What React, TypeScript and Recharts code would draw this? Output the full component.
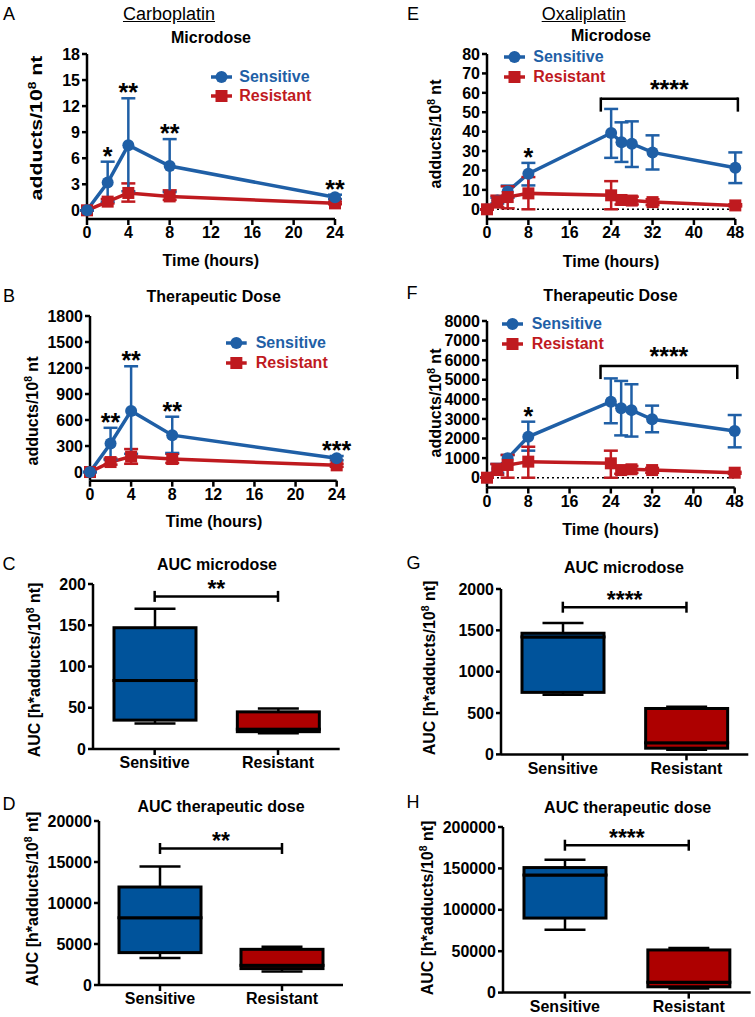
import React from 'react'
import { ComposedChart, Line, XAxis, YAxis, ErrorBar, ReferenceLine, ReferenceDot, BarChart, Bar } from 'recharts'

const FONT = '"Liberation Sans", Arial, Helvetica, sans-serif'
const BLUE = '#1f5fa6'
const RED = '#bf1a1f'
const BOX_BLUE = '#00539b'
const BOX_RED = '#ad0000'

// A - carboplatin microdose
const carboTimes = [0, 2, 4, 8, 24]
const aSensMean = [0, 3.2, 7.5, 5.1, 1.5]
const aSensLow = [0, 1.0, 2.2, 2.1, 1.3]
const aSensHigh = [0, 5.6, 12.9, 8.2, 1.8]
const aResMean = [0, 1.0, 2.0, 1.6, 0.8]
const aResLow = [0, 0.8, 1.0, 1.2, 0.7]
const aResHigh = [0, 1.3, 3.1, 2.3, 1.0]
const aStars = ['', '*', '**', '**', '**']

// B - carboplatin therapeutic dose
const bSensMean = [0, 330, 705, 425, 158]
const bSensLow = [0, 140, 210, 220, 135]
const bSensHigh = [0, 510, 1220, 638, 185]
const bResMean = [0, 115, 178, 150, 77]
const bResLow = [0, 85, 95, 105, 60]
const bResHigh = [0, 155, 265, 210, 95]
const bStars = ['', '**', '**', '**', '***']

// E - oxaliplatin microdose
const oxaliTimes = [0, 2, 4, 8, 24, 26, 28, 32, 48]
const eSensMean = [0, 4.5, 9.2, 18.3, 39.3, 34.5, 33.8, 29.3, 21.4]
const eSensLow = [0, 3, 6, 12.3, 26.5, 24.4, 21.8, 20.5, 13.5]
const eSensHigh = [0, 6, 12.2, 23.9, 51.7, 44.8, 45.3, 38.1, 29.3]
const eResMean = [0, 4.1, 6.3, 8.2, 7.2, 4.8, 4.5, 3.7, 2.0]
const eResLow = [0, 1, 0.5, 0, 0, 2.5, 2.5, 2.2, 1.5]
const eResHigh = [0, 7, 11.8, 16.6, 14.5, 6.5, 6.5, 5.2, 2.6]
const eStars = ['', '', '', '*', '', '', '', '', '']

// F - oxaliplatin therapeutic dose
const fSensMean = [0, 450, 990, 2090, 3880, 3540, 3450, 2980, 2380]
const fSensLow = [0, 250, 700, 1380, 2780, 2160, 2100, 2320, 1550]
const fSensHigh = [0, 700, 1160, 2860, 5070, 4940, 4770, 3680, 3200]
const fResMean = [0, 430, 650, 820, 735, 390, 430, 390, 255]
const fResLow = [0, 150, 0, 0, 0, 200, 250, 250, 200]
const fResHigh = [0, 700, 1160, 1580, 1380, 550, 600, 500, 300]
const fStars = ['', '', '', '*', '', '', '', '', '']

// box plots: [min, q1, median, q3, max]
const groups = ['Sensitive', 'Resistant']
const cSens = [31, 35, 83, 147, 170]
const cRes = [19, 21, 24, 45, 49]
const dSens = [3300, 3950, 8200, 11950, 14450]
const dRes = [1650, 2000, 2400, 4350, 4650]
const gSens = [720, 750, 1420, 1465, 1590]
const gRes = [55, 75, 140, 555, 575]
const hSens = [76000, 90000, 142000, 151000, 160500]
const hRes = [5000, 7000, 12500, 51500, 54000]

const YW = 70
const MT = 20
const MR = 20
const XH = 30
const STAR = 25

type Plot = { L: number; T: number; R: number; B: number }
type Series = { mean: number[]; low: number[]; high: number[] }

const tickStyle = { fill: '#000', fontSize: 16, fontWeight: 700, fontFamily: FONT }
const axisLine = { stroke: '#000', strokeWidth: 2.5 }

function circleDot(p: any) {
  if (p.cx == null) return <g key={p.index} />
  return <circle key={p.index} cx={p.cx} cy={p.cy} r={6} fill={BLUE} />
}
function squareDot(p: any) {
  if (p.cx == null) return <g key={p.index} />
  return <rect key={p.index} x={p.cx - 6} y={p.cy - 6} width={12} height={12} fill={RED} />
}

function TimeCourse({ plot, times, sens, res, yDomain, yTicks, xTicks, stars, bracket, zeroLine, redOnTop }: {
  plot: Plot; times: number[]; sens: Series; res: Series; yDomain: number[]; yTicks: number[]; xTicks: number[]
  stars: string[]; bracket?: { from: number; to: number; y: number; text: string }; zeroLine?: boolean; redOnTop?: boolean
}) {
  const { L, T, R, B } = plot
  const rows = times.map((t, i) => ({
    t,
    s: sens.mean[i],
    sErr: [sens.mean[i] - sens.low[i], sens.high[i] - sens.mean[i]],
    r: res.mean[i],
    rErr: [res.mean[i] - res.low[i], res.high[i] - res.mean[i]],
  }))
  const sensLine = (
    <Line key="s" dataKey="s" stroke={BLUE} strokeWidth={3.5} dot={circleDot} activeDot={false} isAnimationActive={false}>
      <ErrorBar dataKey="sErr" width={7} strokeWidth={2.5} stroke={BLUE} direction="y" />
    </Line>
  )
  const resLine = (
    <Line key="r" dataKey="r" stroke={RED} strokeWidth={3.5} dot={squareDot} activeDot={false} isAnimationActive={false}>
      <ErrorBar dataKey="rErr" width={7} strokeWidth={2.5} stroke={RED} direction="y" />
    </Line>
  )
  return (
    <div style={{ position: 'absolute', left: L - YW, top: T - MT }}>
      <ComposedChart width={R - L + YW + MR} height={B - T + MT + XH} data={rows} margin={{ top: MT, right: MR, bottom: 0, left: 0 }}>
        <XAxis type="number" dataKey="t" domain={[xTicks[0], xTicks[xTicks.length - 1]]} ticks={xTicks} interval={0}
          height={XH} axisLine={axisLine} tickLine={axisLine} tickSize={6} tickMargin={2} tick={tickStyle} />
        <YAxis type="number" domain={yDomain} ticks={yTicks} interval={0} width={YW}
          axisLine={axisLine} tickLine={axisLine} tickSize={5} tickMargin={2} tick={tickStyle} />
        {zeroLine && <ReferenceLine y={0} stroke="#000" strokeWidth={1.5} strokeDasharray="2 3" />}
        {redOnTop ? [sensLine, resLine] : [resLine, sensLine]}
        {stars.map((s, i) =>
          s ? (
            <ReferenceDot key={'st' + i} x={times[i]} y={sens.high[i]} r={0}
              shape={(p: any) => (
                <text x={p.cx} y={p.cy + 3} textAnchor="middle" fontSize={STAR} fontWeight={700} fontFamily={FONT} fill="#000">{s}</text>
              )} />
          ) : null
        )}
        {bracket && (
          <ReferenceLine ifOverflow="visible"
            segment={[{ x: bracket.from, y: bracket.y }, { x: bracket.to, y: bracket.y }]}
            shape={(p: any) => (
              <g>
                <line x1={p.x1} y1={p.y1} x2={p.x2} y2={p.y2} stroke="#000" strokeWidth={2.5} />
                <line x1={p.x1} y1={p.y1 - 1.2} x2={p.x1} y2={p.y1 + 13} stroke="#000" strokeWidth={2.5} />
                <line x1={p.x2} y1={p.y2 - 1.2} x2={p.x2} y2={p.y2 + 13} stroke="#000" strokeWidth={2.5} />
                <text x={(p.x1 + p.x2) / 2} y={p.y1 - 1} textAnchor="middle" fontSize={STAR} fontWeight={700} fontFamily={FONT} fill="#000">{bracket.text}</text>
              </g>
            )} />
        )}
      </ComposedChart>
    </div>
  )
}

const boxFill = (p: any) => (p.payload && p.payload.name === 'Sensitive' ? BOX_BLUE : BOX_RED)

function boxPart(p: any) {
  return <rect x={p.x} y={p.y} width={p.width} height={p.height} fill={boxFill(p)} stroke="#000" strokeWidth={3} />
}
function lowWhisker(p: any) {
  const cx = p.x + p.width / 2
  const yb = p.y + p.height
  return (
    <g>
      <line x1={cx} y1={p.y} x2={cx} y2={yb} stroke="#000" strokeWidth={2.5} />
      <line x1={cx - p.width / 4} y1={yb} x2={cx + p.width / 4} y2={yb} stroke="#000" strokeWidth={2.5} />
    </g>
  )
}
function highWhisker(p: any) {
  const cx = p.x + p.width / 2
  return (
    <g>
      <line x1={cx} y1={p.y} x2={cx} y2={p.y + p.height} stroke="#000" strokeWidth={2.5} />
      <line x1={cx - p.width / 4} y1={p.y} x2={cx + p.width / 4} y2={p.y} stroke="#000" strokeWidth={2.5} />
    </g>
  )
}

function BoxPanel({ plot, sens, res, yTicks, bracketY, text }: {
  plot: Plot; sens: number[]; res: number[]; yTicks: number[]; bracketY: number; text: string
}) {
  const { L, T, R, B } = plot
  const rows = [sens, res].map((v, i) => ({
    name: groups[i],
    base: v[0],
    lowW: v[1] - v[0],
    lowBox: v[2] - v[1],
    highBox: v[3] - v[2],
    highW: v[4] - v[3],
  }))
  return (
    <div style={{ position: 'absolute', left: L - YW, top: T - MT }}>
      <BarChart width={R - L + YW + MR} height={B - T + MT + XH} data={rows} barSize={82}
        margin={{ top: MT, right: MR, bottom: 0, left: 0 }}>
        <XAxis dataKey="name" type="category" height={XH} axisLine={axisLine} tickLine={axisLine}
          tickSize={6} tickMargin={2} tick={tickStyle} interval={0} />
        <YAxis type="number" domain={[yTicks[0], yTicks[yTicks.length - 1]]} ticks={yTicks} interval={0} width={YW}
          axisLine={axisLine} tickLine={axisLine} tickSize={5} tickMargin={2} tick={tickStyle} />
        <Bar dataKey="base" stackId="b" fill="transparent" isAnimationActive={false} />
        <Bar dataKey="lowW" stackId="b" shape={lowWhisker} isAnimationActive={false} />
        <Bar dataKey="lowBox" stackId="b" shape={boxPart} isAnimationActive={false} />
        <Bar dataKey="highBox" stackId="b" shape={boxPart} isAnimationActive={false} />
        <Bar dataKey="highW" stackId="b" shape={highWhisker} isAnimationActive={false} />
        <ReferenceLine ifOverflow="visible"
          segment={[{ x: groups[0], y: bracketY }, { x: groups[1], y: bracketY }]}
          shape={(p: any) => (
            <g>
              <line x1={p.x1} y1={p.y1} x2={p.x2} y2={p.y2} stroke="#000" strokeWidth={2.5} />
              <line x1={p.x1} y1={p.y1 - 5.5} x2={p.x1} y2={p.y1 + 5.5} stroke="#000" strokeWidth={2.5} />
              <line x1={p.x2} y1={p.y2 - 5.5} x2={p.x2} y2={p.y2 + 5.5} stroke="#000" strokeWidth={2.5} />
              <text x={(p.x1 + p.x2) / 2} y={p.y1 + 1} textAnchor="middle" fontSize={STAR - 2} fontWeight={700} fontFamily={FONT} fill="#000">{text}</text>
            </g>
          )} />
      </BarChart>
    </div>
  )
}

function Txt({ x, y, children, size = 16, bold = true, rotate = false, stretch = 1, underline = false }: any) {
  return (
    <div style={{
      position: 'absolute', left: x, top: y, whiteSpace: 'nowrap', lineHeight: 1, fontSize: size,
      fontWeight: bold ? 700 : 400, color: '#000', textDecoration: underline ? 'underline' : 'none',
      transform: `translate(-50%, -50%)${rotate ? ' rotate(-90deg)' : ''}${stretch !== 1 ? ` scaleX(${stretch})` : ''}`,
    }}>{children}</div>
  )
}

const Sup8 = () => <span style={{ fontSize: '0.65em', verticalAlign: 'super', lineHeight: 0 }}>8</span>

function LegendBlock({ x0, x1, tx, y1, y2 }: { x0: number; x1: number; tx: number; y1: number; y2: number }) {
  const w = x1 - x0
  const row = (y: number, color: string, label: string, square: boolean) => (
    <div style={{ position: 'absolute', left: x0, top: y, transform: 'translateY(-50%)', display: 'flex', alignItems: 'center' }}>
      <svg width={w} height={14} style={{ display: 'block' }}>
        <line x1={0} y1={7} x2={w} y2={7} stroke={color} strokeWidth={3.5} />
        {square ? <rect x={w / 2 - 6} y={1} width={12} height={12} fill={color} /> : <circle cx={w / 2} cy={7} r={6} fill={color} />}
      </svg>
      <span style={{ marginLeft: tx - x1, fontSize: 16, fontWeight: 700, color, lineHeight: 1 }}>{label}</span>
    </div>
  )
  return (
    <>
      {row(y1, BLUE, 'Sensitive', false)}
      {row(y2, RED, 'Resistant', true)}
    </>
  )
}

export default function App() {
  const yLabel = <>adducts/10<Sup8 /> nt</>
  const aucLabel = <>AUC [h*adducts/10<Sup8 /> nt]</>
  return (
    <div style={{ position: 'absolute', left: 0, top: 0, width: 755, height: 1017, overflow: 'hidden', background: '#fff', fontFamily: FONT }}>
      <TimeCourse plot={{ L: 87, T: 54.3, R: 335, B: 219.3 }} times={carboTimes}
        sens={{ mean: aSensMean, low: aSensLow, high: aSensHigh }} res={{ mean: aResMean, low: aResLow, high: aResHigh }}
        yDomain={[-1, 18]} yTicks={[0, 3, 6, 9, 12, 15, 18]} xTicks={[0, 4, 8, 12, 16, 20, 24]} stars={aStars} />
      <TimeCourse plot={{ L: 90, T: 316, R: 336.7, B: 480.7 }} times={carboTimes}
        sens={{ mean: bSensMean, low: bSensLow, high: bSensHigh }} res={{ mean: bResMean, low: bResLow, high: bResHigh }}
        yDomain={[-100, 1800]} yTicks={[0, 300, 600, 900, 1200, 1500, 1800]} xTicks={[0, 4, 8, 12, 16, 20, 24]} stars={bStars} />
      <TimeCourse plot={{ L: 486.7, T: 54.3, R: 735, B: 219.3 }} times={oxaliTimes}
        sens={{ mean: eSensMean, low: eSensLow, high: eSensHigh }} res={{ mean: eResMean, low: eResLow, high: eResHigh }}
        yDomain={[-5, 80]} yTicks={[0, 10, 20, 30, 40, 50, 60, 70, 80]} xTicks={[0, 8, 16, 24, 32, 40, 48]} stars={eStars}
        bracket={{ from: 22, to: 48.5, y: 57, text: '****' }} zeroLine redOnTop />
      <TimeCourse plot={{ L: 487.3, T: 321, R: 735, B: 487.5 }} times={oxaliTimes}
        sens={{ mean: fSensMean, low: fSensLow, high: fSensHigh }} res={{ mean: fResMean, low: fResLow, high: fResHigh }}
        yDomain={[-500, 8000]} yTicks={[0, 1000, 2000, 3000, 4000, 5000, 6000, 7000, 8000]} xTicks={[0, 8, 16, 24, 32, 40, 48]} stars={fStars}
        bracket={{ from: 22, to: 48.5, y: 5700, text: '****' }} zeroLine redOnTop />

      <BoxPanel plot={{ L: 93.3, T: 584.3, R: 340, B: 749.3 }} sens={cSens} res={cRes} yTicks={[0, 50, 100, 150, 200]} bracketY={185} text="**" />
      <BoxPanel plot={{ L: 99, T: 820.7, R: 343, B: 984.7 }} sens={dSens} res={dRes} yTicks={[0, 5000, 10000, 15000, 20000]} bracketY={16650} text="**" />
      <BoxPanel plot={{ L: 500.7, T: 589.3, R: 748, B: 754.7 }} sens={gSens} res={gRes} yTicks={[0, 500, 1000, 1500, 2000]} bracketY={1780} text="****" />
      <BoxPanel plot={{ L: 503.3, T: 826.7, R: 751, B: 992.3 }} sens={hSens} res={hRes} yTicks={[0, 50000, 100000, 150000, 200000]} bracketY={178000} text="****" />

      <LegendBlock x0={210.7} x1={231.7} tx={239.3} y1={77.3} y2={96} />
      <LegendBlock x0={226} x1={246.7} tx={255.7} y1={342.7} y2={362.7} />
      <LegendBlock x0={504} x1={525} tx={533.3} y1={56.7} y2={77.3} />
      <LegendBlock x0={501.7} x1={522.7} tx={531.7} y1={324} y2={344} />

      <Txt x={9} y={14} size={18} bold={false}>A</Txt>
      <Txt x={9} y={296} size={18} bold={false}>B</Txt>
      <Txt x={9} y={564} size={18} bold={false}>C</Txt>
      <Txt x={9} y={804} size={18} bold={false}>D</Txt>
      <Txt x={413} y={14} size={18} bold={false}>E</Txt>
      <Txt x={412} y={293} size={18} bold={false}>F</Txt>
      <Txt x={413.5} y={562.5} size={18} bold={false}>G</Txt>
      <Txt x={413} y={802} size={18} bold={false}>H</Txt>
      <Txt x={169} y={14} size={18} bold={false} underline>Carboplatin</Txt>
      <Txt x={583.7} y={14} size={18} bold={false} underline>Oxaliplatin</Txt>

      <Txt x={211} y={38}>Microdose</Txt>
      <Txt x={611} y={36}>Microdose</Txt>
      <Txt x={213.7} y={297}>Therapeutic Dose</Txt>
      <Txt x={610.5} y={296}>Therapeutic Dose</Txt>
      <Txt x={217} y={565}>AUC microdose</Txt>
      <Txt x={624} y={568}>AUC microdose</Txt>
      <Txt x={221} y={807}>AUC therapeutic dose</Txt>
      <Txt x={627.7} y={808}>AUC therapeutic dose</Txt>

      <Txt x={210.8} y={261}>Time (hours)</Txt>
      <Txt x={214} y={521.5}>Time (hours)</Txt>
      <Txt x={611} y={261.7}>Time (hours)</Txt>
      <Txt x={610.5} y={529.5}>Time (hours)</Txt>

      <Txt x={37} y={128} rotate stretch={1.33}>{yLabel}</Txt>
      <Txt x={33} y={411} rotate>{yLabel}</Txt>
      <Txt x={436} y={134} rotate>{yLabel}</Txt>
      <Txt x={436} y={402.5} rotate>{yLabel}</Txt>
      <Txt x={35} y={670} rotate>{aucLabel}</Txt>
      <Txt x={33} y={899} rotate>{aucLabel}</Txt>
      <Txt x={430} y={668} rotate>{aucLabel}</Txt>
      <Txt x={427.5} y={908} rotate>{aucLabel}</Txt>
    </div>
  )
}
